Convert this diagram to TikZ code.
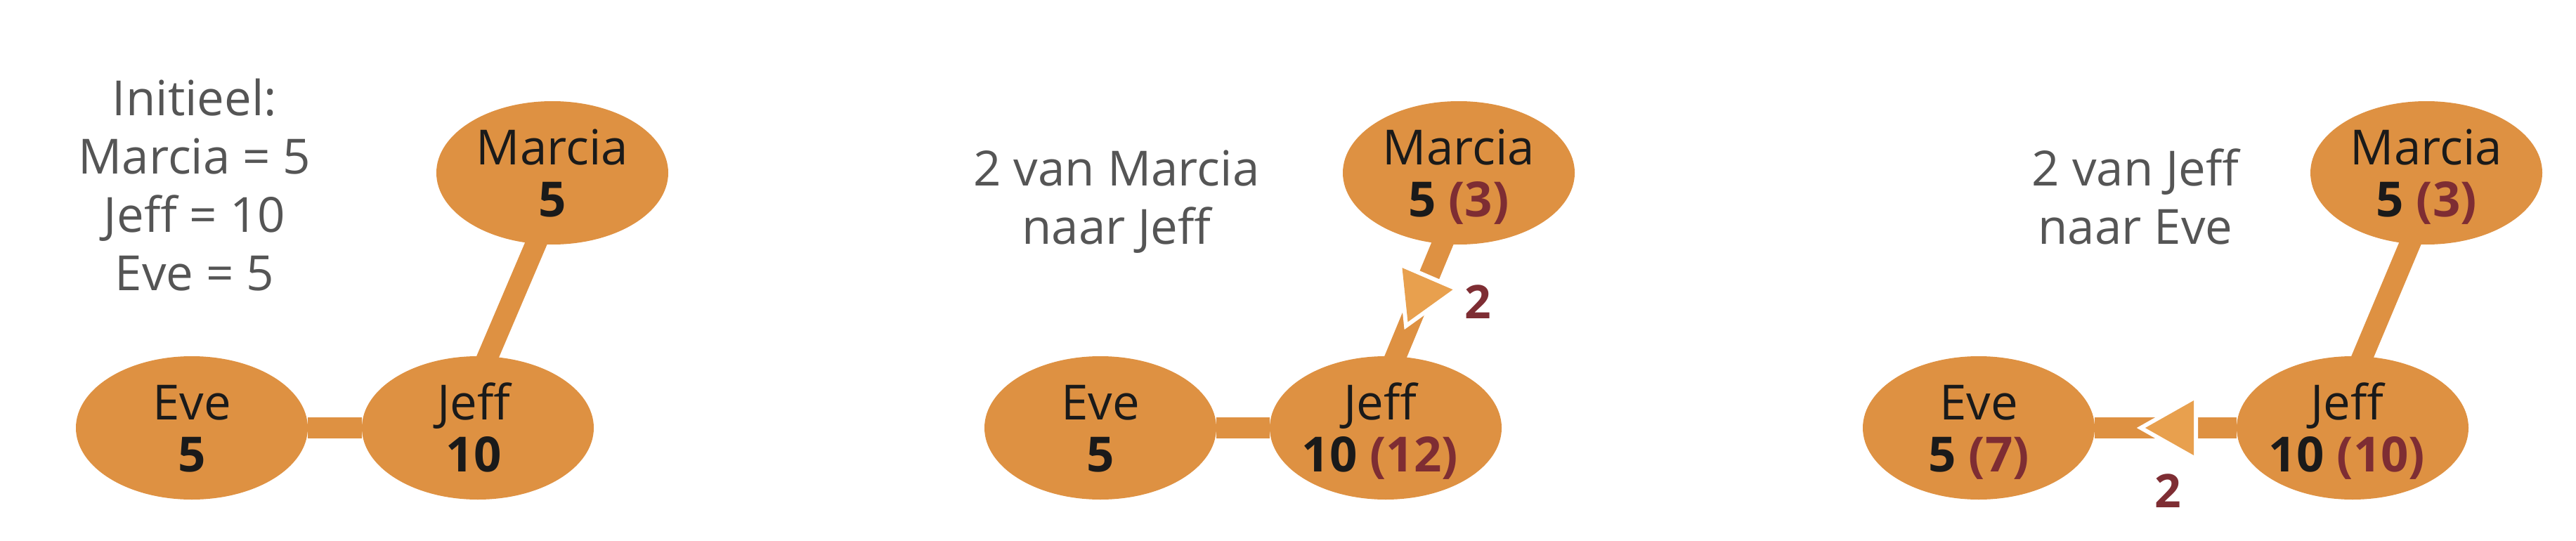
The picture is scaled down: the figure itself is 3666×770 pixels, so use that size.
\documentclass[tikz,border=0pt]{standalone}
\usepackage{fontspec}
\setmainfont{Open Sans}
\usetikzlibrary{calc,shapes.geometric}
\pgfdeclarelayer{background}
\pgfsetlayers{background,main}
\definecolor{orangefill}{HTML}{DE9142}
\definecolor{arrowfill}{HTML}{E8A04E}
\definecolor{darkred}{HTML}{7E2D33}
\definecolor{graytext}{HTML}{555555}
\definecolor{nodetext}{HTML}{1A1A1A}
\begin{document}
\begin{tikzpicture}[x=1pt,y=-1pt,
  person/.style={ellipse, fill=orangefill, minimum width=330pt, minimum height=204pt, inner sep=0pt, outer sep=0pt},
  nametext/.style={anchor=base, text=nodetext, font=\fontsize{69}{74}\selectfont, inner sep=0pt},
  numtext/.style={anchor=base, text=nodetext, font=\fontsize{69}{74}\selectfont\bfseries, inner sep=0pt},
  caption/.style={anchor=base, align=center, text=graytext, font=\fontsize{69}{83}\selectfont, inner sep=0pt},
  amount/.style={anchor=base, text=darkred, font=\fontsize{66}{74}\selectfont\bfseries, inner sep=0pt},
  link/.style={draw=orangefill, line width=30pt},
  flowtip/.style={fill=arrowfill, preaction={draw=white, line width=12pt}}]
\useasboundingbox (0,0) rectangle (3666,770);

% ---------- panel 1
\node[caption] (cap1) at (277,413) {Initieel:\\Marcia = 5\\Jeff = 10\\Eve = 5};
\node[person] (e1) at (273,609) {};
\node[person] (j1) at (680,609) {};
\node[person] (m1) at (786,246) {};
\node[nametext] (e1n) at ($(e1.center)+(0,-12)$) {Eve};
\node[numtext] (e1v) at ($(e1.center)+(0,62)$) {5};
\node[nametext] (j1n) at ($(j1.center)+(-6,-12)$) {Jeff};
\node[numtext] (j1v) at ($(j1.center)+(-6,62)$) {10};
\node[nametext] (m1n) at ($(m1.center)+(0,-12)$) {Marcia};
\node[numtext] (m1v) at ($(m1.center)+(0,62)$) {5};
\begin{pgfonlayer}{background}
\draw[link] (e1) -- (j1);
\draw[link] ($(m1.-103)!-0.2!(j1.82)$) -- ($(j1.82)!-0.2!(m1.-103)$);
\end{pgfonlayer}

% ---------- panel 2
\node[caption] (cap2) at (1589,347) {2 van Marcia\\naar Jeff};
\node[person] (e2) at (1566,609) {};
\node[person] (j2) at (1972,609) {};
\node[person] (m2) at (2076,246) {};
\node[nametext] (e2n) at ($(e2.center)+(0,-12)$) {Eve};
\node[numtext] (e2v) at ($(e2.center)+(0,62)$) {5};
\node[nametext] (j2n) at ($(j2.center)+(-8,-12)$) {Jeff};
\node[numtext] (j2v) at ($(j2.center)+(-8,62)$) {10 \textcolor{darkred}{(12)}};
\node[nametext] (m2n) at ($(m2.center)+(0,-12)$) {Marcia};
\node[numtext] (m2v) at ($(m2.center)+(0,62)$) {5 \textcolor{darkred}{(3)}};
\begin{pgfonlayer}{background}
\draw[link] (e2) -- (j2);
\draw[link] ($(m2.-103)!-0.2!(j2.82)$) -- ($(j2.82)!-0.2!(m2.-103)$);
\end{pgfonlayer}
\coordinate (mid2) at ($(m2.-103)!0.5!(j2.82)$);
\fill[flowtip] ($(mid2)+(-24,-46)$) -- ($(mid2)+(48,-15)$) -- ($(mid2)+(-16,31)$) -- cycle;
\node[amount] (amt2) at ($(mid2)+(84,26)$) {2};

% ---------- panel 3
\node[caption] (cap3) at (3039,347) {2 van Jeff\\naar Eve};
\node[person] (e3) at (2816,609) {};
\node[person] (j3) at (3348,609) {};
\node[person] (m3) at (3453,246) {};
\node[nametext] (e3n) at ($(e3.center)+(0,-12)$) {Eve};
\node[numtext] (e3v) at ($(e3.center)+(0,62)$) {5 \textcolor{darkred}{(7)}};
\node[nametext] (j3n) at ($(j3.center)+(-8,-12)$) {Jeff};
\node[numtext] (j3v) at ($(j3.center)+(-8,62)$) {10 \textcolor{darkred}{(10)}};
\node[nametext] (m3n) at ($(m3.center)+(0,-12)$) {Marcia};
\node[numtext] (m3v) at ($(m3.center)+(0,62)$) {5 \textcolor{darkred}{(3)}};
\begin{pgfonlayer}{background}
\draw[link] (e3) -- (j3);
\draw[link] ($(m3.-103)!-0.2!(j3.82)$) -- ($(j3.82)!-0.2!(m3.-103)$);
\end{pgfonlayer}
\coordinate (mid3) at ($(e3.east)!0.5!(j3.west)$);
\fill[flowtip] ($(mid3)+(40,-39)$) -- ($(mid3)+(40,39)$) -- ($(mid3)+(-29,0)$) -- cycle;
\node[amount] (amt3) at ($(mid3)+(3,113)$) {2};
\end{tikzpicture}
\end{document}
